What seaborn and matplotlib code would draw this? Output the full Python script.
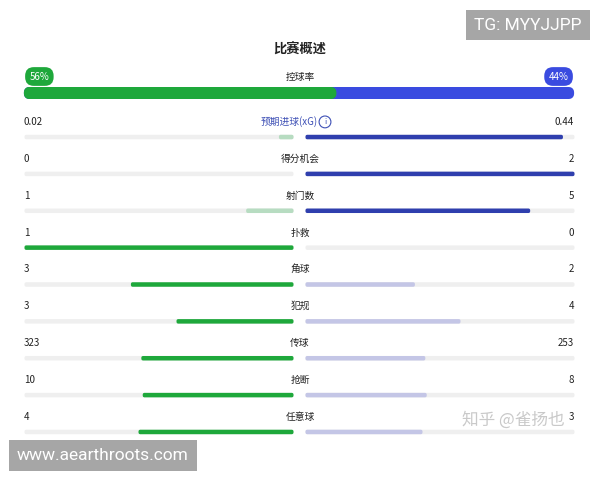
import numpy as np
import pandas as pd
import matplotlib
matplotlib.use('Agg')
import matplotlib.pyplot as plt
import matplotlib.transforms as mtransforms
from matplotlib.patches import Rectangle
import seaborn as sns

# 数据
stats = ['预期进球(xG)', '得分机会', '射门数', '扑救', '角球', '犯规', '传球', '抢断', '任意球']
home_vals = [0.02, 0, 1, 1, 3, 3, 323, 10, 4]
away_vals = [0.44, 2, 5, 0, 2, 4, 253, 8, 3]
home_labels = ['0.02', '0', '1', '1', '3', '3', '323', '10', '4']
away_labels = ['0.44', '2', '5', '0', '2', '4', '253', '8', '3']
home_better = [False, False, False, True, True, True, True, True, True]
possession = [56, 44]

GREEN = '#1ea83b'
LIGHT_GREEN = '#b7dcc1'
BLUE_POS = '#3a4be0'
BLUE = '#2f3fae'
LAVENDER = '#c4c6e6'
TRACK = '#efefef'
TEXT = '#222222'

sns.set_theme(style='white')
plt.rcParams['font.family'] = ['Noto Sans CJK SC', 'DejaVu Sans']

df = pd.DataFrame({'stat': stats, 'home': home_vals, 'away': away_vals})
df['home_share'] = df['home'] / (df['home'] + df['away'])
df['away_share'] = df['away'] / (df['home'] + df['away'])
df['track'] = 1.0
home_pal = {s: (GREEN if b else LIGHT_GREEN) for s, b in zip(stats, home_better)}
away_pal = {s: (LAVENDER if b else BLUE) for s, b in zip(stats, home_better)}

fig = plt.figure(figsize=(6, 4.8), dpi=100)
fig.patch.set_facecolor('white')

def fx(px):
    return px / 600

def fy(py):
    return 1 - py / 480

def round_ends(patches, lw_px):
    # 用圆角描边做出胶囊形状
    for p in patches:
        p.set_edgecolor(p.get_facecolor())
        p.set_linewidth(lw_px * 0.72)
        p.set_joinstyle('round')
        p.set_snap(False)
        p.set_clip_on(False)

# 标题
fig.text(0.5, fy(50), '比赛概述', ha='center', va='center', fontsize=9.5,
         fontweight='bold', color=TEXT)

# 控球率
fig.text(0.5, fy(77), '控球率', ha='center', va='center', fontsize=7, color=TEXT)
fig.text(fx(29.5), fy(76.5), f'{possession[0]}%', ha='left', va='center', fontsize=7,
         color='white', bbox=dict(boxstyle='round,pad=0.45,rounding_size=0.9', fc=GREEN, ec='none'))
fig.text(fx(568.5), fy(76.5), f'{possession[1]}%', ha='right', va='center', fontsize=7,
         color='white', bbox=dict(boxstyle='round,pad=0.45,rounding_size=0.9', fc=BLUE_POS, ec='none'))

ax_p = fig.add_axes([fx(24), fy(100), fx(550), 14 / 480])
sns.barplot(x=[100], color=BLUE_POS, saturation=1, width=2 / 14, ax=ax_p)
sns.barplot(x=[possession[0]], color=GREEN, saturation=1, width=2 / 14, ax=ax_p)
r = 5 / 550 * 100
ax_p.set_xlim(-r, 100 + r)
ax_p.set_ylim(0.5, -0.5)
round_ends(ax_p.patches, 10)
green_patch = ax_p.patches[1]
green_patch.set_clip_path(Rectangle((-10, -1), possession[0] + 10, 2, transform=ax_p.transData))
ax_p.axis('off')

# 各项数据
top, bottom = 118.6, 450.4
row_px = (bottom - top) / len(stats)
ax_l = fig.add_axes([fx(26), fy(bottom), fx(266), (bottom - top) / 480])
ax_r = fig.add_axes([fx(307), fy(bottom), fx(266), (bottom - top) / 480])

for ax, col, pal in [(ax_l, 'home_share', home_pal), (ax_r, 'away_share', away_pal)]:
    sns.barplot(data=df, y='stat', x='track', color=TRACK, saturation=1,
                width=1.5 / row_px, ax=ax)
    sns.barplot(data=df, y='stat', x=col, hue='stat', palette=pal, saturation=1,
                width=1.5 / row_px, legend=False, ax=ax)
    round_ends(ax.patches, 3)
    for p in ax.patches:
        if p.get_width() == 0:
            p.set_visible(False)
    ax.axis('off')

ax_l.set_xlim(1, 0)
ax_r.set_xlim(0, 1)

mid = mtransforms.blended_transform_factory(fig.transFigure, ax_r.transData)
for i, s in enumerate(stats):
    y = i - 0.41
    ax_l.text(1.0 + 2 / 266, y, home_labels[i], ha='left', va='center', fontsize=7, color=TEXT)
    ax_r.text(1.0 + 1 / 266, y, away_labels[i], ha='right', va='center', fontsize=7, color=TEXT)
    if i == 0:
        ax_r.text(fx(289), y, s, ha='center', va='center', fontsize=7,
                  color='#3d4fb5', transform=mid)
        ax_r.text(fx(325), y, 'i', ha='center', va='center', fontsize=5.5, color='#3d4fb5',
                  transform=mid,
                  bbox=dict(boxstyle='circle,pad=0.25', fc='white', ec='#3d4fb5', lw=0.8))
    else:
        ax_r.text(0.5, y, s, ha='center', va='center', fontsize=7, color=TEXT, transform=mid)

# 水印
fig.text(fx(528), fy(25), 'TG: MYYJJPP', ha='center', va='center', fontsize=12.5,
         color='white', family='Roboto',
         bbox=dict(boxstyle='square,pad=0.45', fc='#a6a6a6', ec='none'))
fig.text(fx(103), fy(455.5), 'www.aearthroots.com', ha='center', va='center', fontsize=12.5,
         color='white', family='Roboto',
         bbox=dict(boxstyle='square,pad=0.45', fc='#a6a6a6', ec='none'))
fig.text(fx(565), fy(420), '知乎 @雀扬也', ha='right', va='center', fontsize=12,
         color='#c9c9c9')

fig.savefig('out.png', dpi=100, facecolor='white')
